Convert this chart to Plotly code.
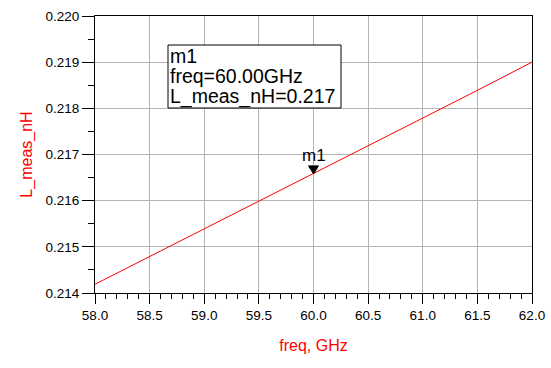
import plotly.graph_objects as go

freq_ghz = [58.0, 58.5, 59.0, 59.5, 60.0, 60.5, 61.0, 61.5, 62.0]
l_meas_nh = [0.21419, 0.21479, 0.21539, 0.21599, 0.21658, 0.21718, 0.21778, 0.21839, 0.21900]
marker_freq = 60.0
marker_val = 0.21658
marker_lines = ["m1", "freq=60.00GHz", "L_meas_nH=0.217"]
x_ticks = [58.0, 58.5, 59.0, 59.5, 60.0, 60.5, 61.0, 61.5, 62.0]
y_ticks = [0.214, 0.215, 0.216, 0.217, 0.218, 0.219, 0.220]

FONT = "Arial, Liberation Sans, sans-serif"

W, H = 551, 368
L, R, T, B = 95, 532, 16, 293  # plot area in window pixels
PW, PH = R - L, B - T


def px(x):
    return (x - L) / PW


def py(y):
    return (B - y) / PH


fig = go.Figure()
fig.add_trace(go.Scatter(x=freq_ghz, y=l_meas_nh, mode="lines",
                         line=dict(color="#ff0000", width=1), showlegend=False,
                         hoverinfo="skip"))

# marker triangle (pointing down, tip at data point)
fig.add_shape(type="path", xref="x", yref="y", xsizemode="pixel", ysizemode="pixel",
              xanchor=marker_freq, yanchor=marker_val,
              path="M -5 8 L 5 8 L 0 0 Z", fillcolor="black",
              line=dict(color="black", width=1))
fig.add_annotation(x=marker_freq, y=marker_val, xref="x", yref="y", text=marker_lines[0],
                   showarrow=False, yshift=18, font=dict(family=FONT, size=17, color="black"))

# marker readout box
fig.add_shape(type="rect", xref="paper", yref="paper",
              x0=px(168), x1=px(341), y0=py(108), y1=py(45),
              line=dict(color="black", width=1), fillcolor="white", layer="above")
for txt, yc in zip(marker_lines, [56, 76, 96]):
    fig.add_annotation(x=px(168), y=py(yc), xref="paper", yref="paper", text=txt,
                       showarrow=False, xanchor="left", yanchor="middle",
                       font=dict(family=FONT, size=19.5, color="black"))

fig.update_layout(
    width=W, height=H,
    margin=dict(l=L, r=W - R, t=T, b=H - B, autoexpand=False),
    paper_bgcolor="white", plot_bgcolor="white",
    font=dict(family=FONT, size=13, color="black"),
)
fig.update_xaxes(
    range=[58.0, 62.0], tickvals=x_ticks, tickformat=".1f",
    showgrid=True, gridcolor="#b4b4b4", gridwidth=1,
    showline=True, linecolor="black", linewidth=1, mirror=True,
    ticks="outside", ticklen=10, tickcolor="black",
    minor=dict(dtick=0.1, ticks="outside", ticklen=5, tickcolor="black", showgrid=False),
    zeroline=False,
    title=dict(text="freq, GHz", font=dict(family=FONT, size=16, color="#ff0000"), standoff=17),
    tickfont=dict(family=FONT, size=13.5, color="black"),
)
fig.update_yaxes(
    range=[0.214, 0.220], tickvals=y_ticks, tickformat=".3f",
    showgrid=True, gridcolor="#b4b4b4", gridwidth=1,
    showline=True, linecolor="black", linewidth=1, mirror=True,
    ticks="outside", ticklen=12, tickcolor="black",
    minor=dict(dtick=0.0005, ticks="outside", ticklen=6, tickcolor="black", showgrid=False),
    zeroline=False,
    title=dict(text="L_meas_nH", font=dict(family=FONT, size=16, color="#ff0000"), standoff=8),
    tickfont=dict(family=FONT, size=13.5, color="black"),
)

fig.write_html("out.html", config={"displayModeBar": False},
               post_script="document.body.style.margin='0';document.body.style.overflow='hidden';")
